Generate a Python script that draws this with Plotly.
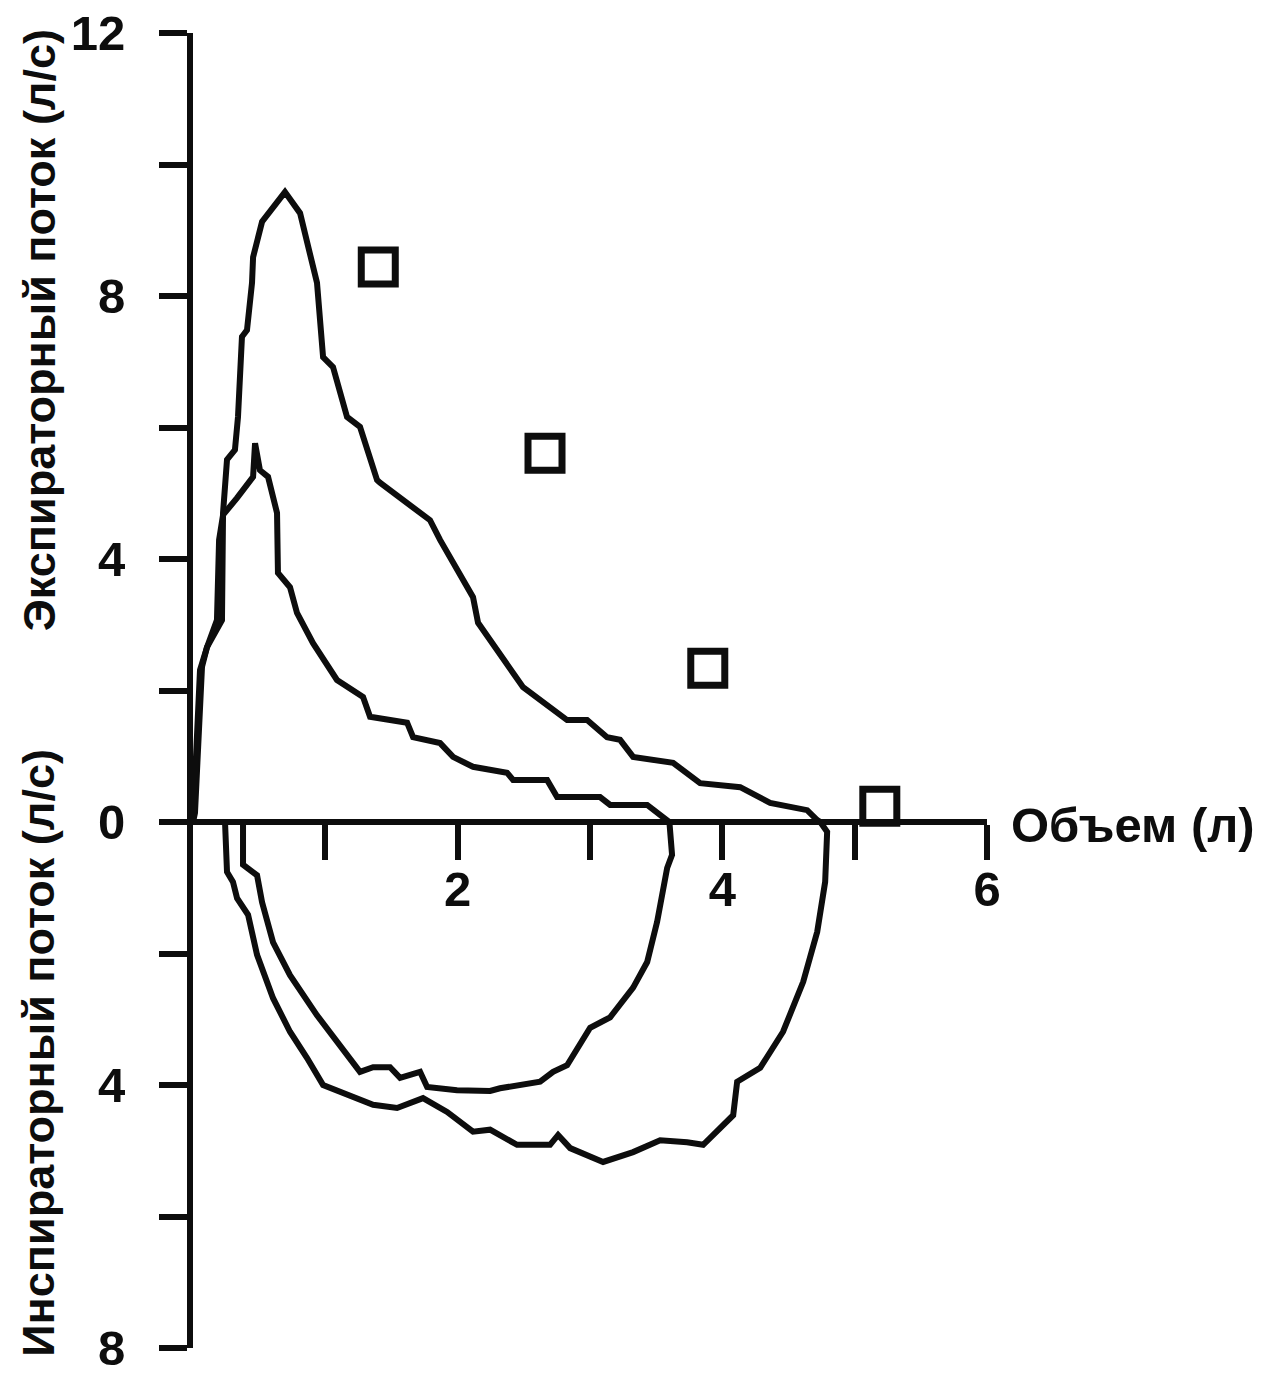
import plotly.graph_objects as go

# ---- data ----
# large loop, expiratory part (volume l, flow l/s)
big_exp_vol = [0.0, 0.015, 0.068, 0.106, 0.219, 0.227, 0.257, 0.317, 0.340, 0.370, 0.408, 0.446, 0.454,
               0.522, 0.695, 0.809, 0.937, 0.983, 1.058, 1.164, 1.262, 1.391, 1.413, 1.791, 1.867, 2.071,
               2.116, 2.154, 2.494, 2.827, 2.978, 3.129, 3.227, 3.326, 3.628, 3.832, 4.135, 4.361, 4.641,
               4.717, 4.74]
big_exp_flow = [0.0, 0.14, 2.36, 2.66, 3.07, 4.70, 5.51, 5.66, 6.16, 7.38, 7.48, 8.20, 8.59,
                9.13, 9.58, 9.26, 8.20, 7.07, 6.92, 6.16, 6.01, 5.20, 5.16, 4.59, 4.29, 3.57,
                3.42, 3.03, 2.05, 1.55, 1.55, 1.29, 1.25, 0.99, 0.90, 0.59, 0.53, 0.29, 0.18,
                0.03, 0.0]
# large loop, inspiratory part
big_insp_vol = [4.74, 4.792, 4.777, 4.717, 4.611, 4.459, 4.286, 4.112, 4.082, 3.855, 3.734, 3.530, 3.326,
                3.099, 2.850, 2.759, 2.698, 2.449, 2.320, 2.245, 2.116, 1.920, 1.738, 1.542, 1.361,
                1.111, 0.983, 0.862, 0.733, 0.605, 0.484, 0.416, 0.333, 0.302, 0.257, 0.242]
big_insp_flow = [0.0, -0.15, -0.91, -1.67, -2.43, -3.19, -3.74, -3.95, -4.46, -4.91, -4.87, -4.84, -5.02,
                 -5.17, -4.96, -4.76, -4.91, -4.91, -4.76, -4.68, -4.71, -4.41, -4.20, -4.35, -4.30,
                 -4.11, -4.00, -3.59, -3.19, -2.68, -2.02, -1.41, -1.16, -0.91, -0.76, 0.0]

# small loop, expiratory part
small_exp_vol = [0.0, 0.053, 0.106, 0.181, 0.197, 0.227, 0.333, 0.454, 0.469, 0.506, 0.567, 0.635, 0.642,
                 0.733, 0.786, 0.907, 1.088, 1.285, 1.338, 1.618, 1.663, 1.867, 1.965, 2.116, 2.373,
                 2.419, 2.676, 2.751, 3.076, 3.152, 3.432, 3.583, 3.60]
small_exp_flow = [0.0, 2.31, 2.66, 3.07, 4.29, 4.67, 4.93, 5.25, 5.76, 5.35, 5.25, 4.70, 3.79,
                  3.57, 3.18, 2.72, 2.16, 1.90, 1.60, 1.51, 1.29, 1.20, 0.99, 0.84, 0.75,
                  0.64, 0.64, 0.38, 0.38, 0.26, 0.26, 0.03, 0.0]
# small loop, inspiratory part
small_insp_vol = [3.60, 3.62, 3.583, 3.507, 3.432, 3.326, 3.152, 3.001, 2.827, 2.721, 2.623, 2.320, 2.245,
                  1.995, 1.769, 1.716, 1.565, 1.489, 1.361, 1.262, 1.111, 0.937, 0.733, 0.605, 0.522,
                  0.484, 0.378, 0.378]
small_insp_flow = [0.0, -0.50, -0.70, -1.52, -2.13, -2.52, -2.97, -3.13, -3.70, -3.80, -3.95, -4.05, -4.09,
                   -4.08, -4.03, -3.80, -3.89, -3.73, -3.73, -3.80, -3.39, -2.94, -2.33, -1.83, -1.22,
                   -0.81, -0.65, 0.0]

# open squares
square_vol = [1.40, 2.66, 3.89, 5.19]
square_flow = [8.44, 5.61, 2.34, 0.24]

# axis ticks
x_tickvals = [1, 2, 3, 4, 5, 6]
x_ticktext = ["", "<b>2</b>", "", "<b>4</b>", "", "<b>6</b>"]
y_tickvals = [-8, -6, -4, -2, 0, 2, 4, 6, 8, 10, 12]
y_ticktext = ["<b>8</b>", "", "<b>4</b>", "", "<b>0</b>", "", "<b>4</b>", "", "<b>8</b>", "", "<b>12</b>"]

x_title = "Объем (л)"
y_title_top = "Экспираторный поток (л/с)"
y_title_bottom = "Инспираторный поток (л/с)"

INK = "#0d0d0d"
FONT = "Liberation Sans, Arial, Helvetica, sans-serif"
LW = 6
FS = 45
FS_TICK = 49
FS_XTITLE = 49

fig = go.Figure()
for xs, ys in [(big_exp_vol + big_insp_vol, big_exp_flow + big_insp_flow),
               (small_exp_vol + small_insp_vol, small_exp_flow + small_insp_flow)]:
    fig.add_trace(go.Scatter(x=xs, y=ys, mode="lines",
                             line=dict(color=INK, width=LW, shape="linear"),
                             hoverinfo="skip", showlegend=False, cliponaxis=False))

fig.add_trace(go.Scatter(x=square_vol, y=square_flow, mode="markers",
                         marker=dict(symbol="square-open", size=34, color=INK,
                                     line=dict(color=INK, width=7)),
                         showlegend=False, cliponaxis=False))

fig.update_layout(
    width=1266, height=1380,
    margin=dict(l=193, r=279, t=33, b=32, autoexpand=False),
    paper_bgcolor="white", plot_bgcolor="white",
    font=dict(family=FONT, size=FS, color=INK),
    xaxis=dict(range=[0, 6], anchor="free", position=0.4, automargin=False,
               showline=True, linewidth=LW, linecolor=INK,
               ticks="outside", ticklen=35, tickwidth=LW, tickcolor=INK,
               tickvals=x_tickvals, ticktext=x_ticktext,
               tickfont=dict(family=FONT, size=FS_TICK, color=INK),
               ticklabelstandoff=-13, ticklabeloverflow="allow",
               showgrid=False, zeroline=False),
    yaxis=dict(range=[-8, 12], automargin=False,
               showline=True, linewidth=LW, linecolor=INK,
               ticks="outside", ticklen=28, tickwidth=LW, tickcolor=INK,
               tickvals=y_tickvals, ticktext=y_ticktext,
               tickfont=dict(family=FONT, size=FS_TICK, color=INK),
               ticklabelstandoff=24, ticklabeloverflow="allow",
               showgrid=False, zeroline=False),
    annotations=[
        dict(text="<b>" + x_title + "</b>", x=6, y=0, xref="x", yref="y", xanchor="left", yanchor="middle",
             xshift=22, yshift=-3, showarrow=False, font=dict(family=FONT, size=FS_XTITLE, color=INK)),
        dict(text="<b>" + y_title_top + "</b>", x=-0.194, y=7.48, xref="paper", yref="y", textangle=-90,
             xanchor="center", yanchor="middle", showarrow=False,
             font=dict(family=FONT, size=FS, color=INK)),
        dict(text="<b>" + y_title_bottom + "</b>", x=-0.194, y=-3.51, xref="paper", yref="y", textangle=-90,
             xanchor="center", yanchor="middle", showarrow=False,
             font=dict(family=FONT, size=FS, color=INK)),
    ],
)

# remove the page's default 8 px body margin so the figure fills the window exactly
fig.write_html("out.html", config={"displayModeBar": False},
               post_script="document.body.style.margin='0';")
